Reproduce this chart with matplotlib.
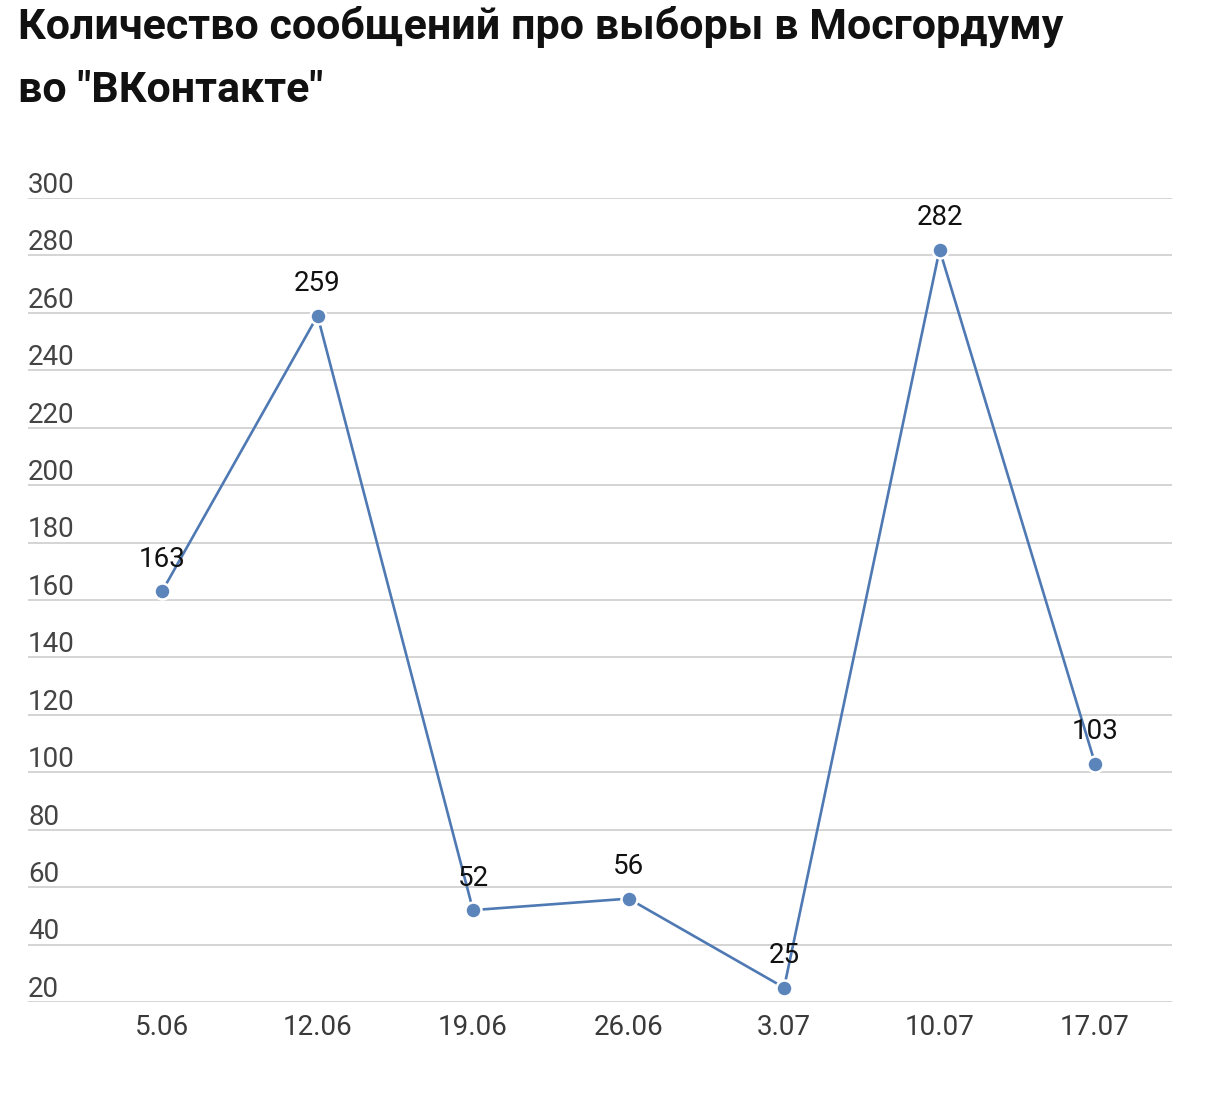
import matplotlib.pyplot as plt

plt.rcParams['font.family'] = ['Roboto', 'DejaVu Sans']

# данные
dates = ["5.06", "12.06", "19.06", "26.06", "3.07", "10.07", "17.07"]
counts = [163, 259, 52, 56, 25, 282, 103]
y_ticks = list(range(20, 301, 20))

fig = plt.figure(figsize=(12.09, 10.94), dpi=100)
ax = fig.add_axes([0.02316, 0.0841, 0.9463, 0.7349])

x = list(range(len(dates)))
ax.plot(x, counts, color='#4f79b3', linewidth=1.9, zorder=3)
ax.plot(x, counts, linestyle='none', marker='o', markersize=11.5,
        markerfacecolor='#5b84bb', markeredgecolor='white',
        markeredgewidth=1.8, zorder=4)

for xi, v in zip(x, counts):
    ax.annotate(str(v), (xi, v), xytext=(0, 23), textcoords='offset points',
                ha='center', va='center', fontsize=20, color='#111111', zorder=5)

ax.set_xlim(-0.862, 6.495)
ax.set_ylim(20, 300)
ax.set_yticks(y_ticks)
ax.yaxis.grid(True, color='#d4d4d4', linewidth=1.4)
ax.set_axisbelow(True)
ax.set_yticklabels([])
ax.tick_params(axis='y', length=0)

# подписи оси Y стоят над линиями сетки, у левого края
for t in y_ticks:
    ax.text(0, t - 0.3, str(t), transform=ax.get_yaxis_transform(),
            ha='left', va='bottom', fontsize=20, color='#444444')

ax.set_xticks(x)
ax.set_xticklabels(dates, fontsize=20, color='#3a3a3a')
ax.tick_params(axis='x', length=0, pad=9)

for s in ax.spines.values():
    s.set_visible(False)

fig.text(18 / 1209, 1 - 6 / 1094,
         'Количество сообщений про выборы в Мосгордуму\nво "ВКонтакте"',
         ha='left', va='top', fontsize=31, fontweight='bold',
         color='#111111', linespacing=1.7)

fig.savefig('out.png', dpi=100)
